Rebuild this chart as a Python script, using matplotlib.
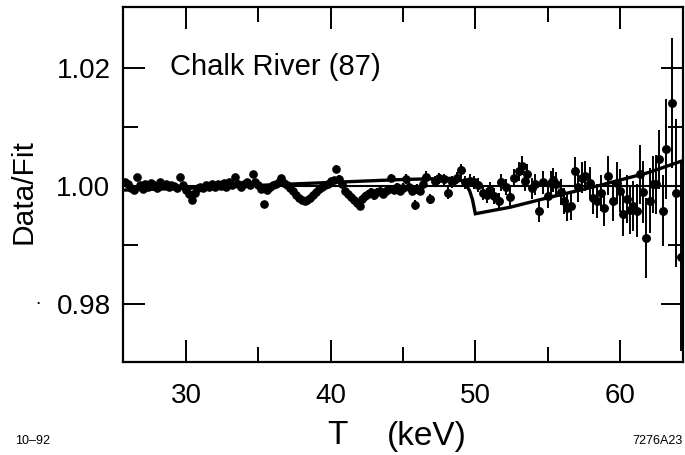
import matplotlib
matplotlib.use("Agg")
import matplotlib.pyplot as plt
from matplotlib.ticker import FixedLocator

plt.rcParams['font.family'] = ['Liberation Sans', 'DejaVu Sans']

# ---------------- data ----------------
T_dense = [25.8, 26.0, 26.2, 26.4, 26.6, 26.8, 27.0, 27.2, 27.4, 27.6, 27.8,
           28.0, 28.2, 28.4, 28.6, 28.8, 29.0, 29.2, 29.4, 29.6, 29.8,
           30.0, 30.2, 30.4, 30.6, 30.8, 31.0, 31.2, 31.4, 31.6, 31.8,
           32.0, 32.2, 32.4, 32.6, 32.8, 33.0, 33.2, 33.4, 33.6, 33.8,
           34.0, 34.2, 34.4, 34.6, 34.8, 35.0, 35.2, 35.4, 35.6, 35.8,
           36.0, 36.2, 36.4, 36.6, 36.8, 37.0, 37.2, 37.4, 37.6, 37.8,
           38.0, 38.2, 38.4, 38.6, 38.8, 39.0, 39.2, 39.4, 39.6, 39.8,
           40.0, 40.2, 40.4, 40.6, 40.8, 41.0, 41.2, 41.4, 41.6, 41.8,
           42.0, 42.2, 42.4, 42.6, 42.8, 43.0, 43.2, 43.4, 43.6, 43.8,
           44.0, 44.2, 44.4, 44.6, 44.8, 45.0, 45.2, 45.4, 45.6, 45.8,
           46.0, 46.2, 46.4]
R_dense = [1.0006, 1.0003, 0.9996, 0.9994, 1.0015, 1.0001, 0.9995, 1.0004, 0.9999, 1.0005, 1.0002,
           0.9996, 1.0006, 1.0001, 1.0004, 0.9998, 1.0002, 1.0000, 0.9996, 1.0015, 1.0001,
           0.9994, 0.9986, 0.9977, 0.9988, 0.9996, 0.9999, 0.9996, 1.0002, 0.9998, 1.0003,
           0.9999, 1.0004, 1.0000, 1.0005, 0.9999, 1.0006, 1.0002, 1.0016, 1.0003, 0.9999,
           1.0004, 1.0007, 1.0001, 1.0021, 1.0006, 1.0001, 0.9995, 0.9970, 0.9993, 0.9998,
           1.0002, 1.0004, 1.0007, 1.0013, 1.0005, 1.0001, 0.9997, 0.9991, 0.9985, 0.9980,
           0.9977, 0.9975, 0.9977, 0.9980, 0.9984, 0.9990, 0.9995, 0.9999, 1.0002, 1.0004,
           1.0008, 1.0010, 1.0029, 1.0012, 1.0003, 0.9992, 0.9986, 0.9981, 0.9976, 0.9971,
           0.9966, 0.9978, 0.9983, 0.9987, 0.9990, 0.9984, 0.9989, 0.9992, 0.9986, 0.9991,
           0.9995, 1.0014, 0.9993, 0.9998, 0.9991, 0.9997, 1.0012, 0.9999, 0.9992, 0.9968,
           0.9995, 0.9992, 1.0004]
E_dense = [0.0004, 0.0004, 0.0004, 0.0004, 0.0004, 0.0004, 0.0004, 0.0004, 0.0004, 0.0004, 0.0004,
           0.0004, 0.0004, 0.0004, 0.0004, 0.0004, 0.0004, 0.0004, 0.0004, 0.0004, 0.0004,
           0.0004, 0.0004, 0.0004, 0.0004, 0.0004, 0.0004, 0.0004, 0.0004, 0.0004, 0.0004,
           0.0004, 0.0004, 0.0004, 0.0004, 0.0004, 0.0004, 0.0004, 0.0004, 0.0004, 0.0004,
           0.0004, 0.0004, 0.0004, 0.0004, 0.0004, 0.0004, 0.0004, 0.0005, 0.0005, 0.0005,
           0.0005, 0.0005, 0.0005, 0.0005, 0.0005, 0.0005, 0.0005, 0.0005, 0.0005, 0.0005,
           0.0005, 0.0005, 0.0005, 0.0005, 0.0005, 0.0005, 0.0005, 0.0005, 0.0005, 0.0005,
           0.0006, 0.0006, 0.0006, 0.0006, 0.0006, 0.0006, 0.0006, 0.0006, 0.0006, 0.0006,
           0.0006, 0.0006, 0.0006, 0.0006, 0.0006, 0.0007, 0.0007, 0.0007, 0.0007, 0.0007,
           0.0007, 0.0007, 0.0007, 0.0007, 0.0007, 0.0008, 0.0008, 0.0008, 0.0008, 0.0008,
           0.0008, 0.0008, 0.0008]

T_sparse = [46.6, 46.9, 47.2, 47.5, 47.8, 48.1, 48.4, 48.7, 49.0, 49.3, 49.6, 49.9,
            50.2, 50.5, 50.8, 51.0, 51.3, 51.6, 51.8, 52.1, 52.4, 52.7, 53.0, 53.2,
            53.4, 53.6, 53.9, 54.1, 54.4, 54.7, 55.0, 55.2, 55.4, 55.6, 55.9, 56.1,
            56.3, 56.6, 56.9, 57.1, 57.4, 57.6, 57.9, 58.1, 58.4, 58.7, 58.9, 59.2,
            59.5, 59.8, 60.0, 60.2, 60.5, 60.7, 60.9, 61.2, 61.4, 61.6, 61.8, 62.1,
            62.3, 62.5, 62.7, 63.0, 63.2, 63.6, 63.9, 64.2]
R_sparse = [1.0016, 0.9978, 1.0008, 1.0013, 1.0011, 0.9988, 1.0007, 1.0014, 1.0027, 1.0006, 1.0009, 1.0006,
            1.0002, 0.9988, 0.9984, 0.9993, 0.9983, 0.9975, 1.0006, 0.9998, 0.9981, 1.0014, 1.0025, 1.0034,
            1.0009, 1.0020, 0.9996, 1.0003, 0.9958, 1.0006, 0.9983, 1.0005, 1.0010, 1.0003, 0.9990, 0.9975,
            0.9963, 0.9966, 1.0025, 0.9998, 1.0014, 1.0017, 1.0005, 0.9980, 0.9975, 0.9988, 0.9963, 1.0017,
            0.9975, 1.0005, 0.9992, 0.9953, 0.9978, 0.9960, 0.9966, 0.9958, 1.0020, 0.9990, 0.9912, 0.9975,
            1.0003, 1.0003, 1.0045, 0.9958, 1.0063, 1.0141, 0.9988, 0.9880]
E_sparse = [0.0009, 0.0009, 0.0009, 0.0009, 0.0010, 0.0010, 0.0010, 0.0010, 0.0011, 0.0011, 0.0011, 0.0011,
            0.0012, 0.0012, 0.0012, 0.0013, 0.0013, 0.0013, 0.0014, 0.0014, 0.0015, 0.0015, 0.0016, 0.0016,
            0.0017, 0.0017, 0.0018, 0.0018, 0.0019, 0.0019, 0.0020, 0.0020, 0.0021, 0.0021, 0.0022, 0.0022,
            0.0023, 0.0023, 0.0024, 0.0025, 0.0026, 0.0026, 0.0027, 0.0028, 0.0029, 0.0030, 0.0031, 0.0033,
            0.0034, 0.0035, 0.0036, 0.0038, 0.0040, 0.0041, 0.0043, 0.0045, 0.0050, 0.0052, 0.0068, 0.0055,
            0.0048, 0.0050, 0.0050, 0.0060, 0.0085, 0.0110, 0.0125, 0.0160]

fit_T = [25.65, 30.0, 35.0, 40.0, 45.0, 48.5, 49.0, 49.3, 49.6, 49.8, 50.0, 52.4, 55.0, 58.6, 62.0, 64.35]
fit_R = [0.9993, 0.9996, 1.0001, 1.0006, 1.0011, 1.0013, 1.0010, 1.0004, 0.9992, 0.9977, 0.9953,
         0.9964, 0.9980, 1.0001, 1.0023, 1.0043]

ref_level = 1.0

xmajor = [30, 40, 50, 60]
xminor = [35, 45, 55]
ymajor = [0.98, 1.00, 1.02]
yminor = [0.99, 1.01]
ylabels = ['0.98', '1.00', '1.02']

# ---------------- figure ----------------
W, H = 685, 455
fig = plt.figure(figsize=(W / 100, H / 100), dpi=100)
ax = fig.add_axes([123 / W, 1 - 362 / H, (683 - 123) / W, (362 - 7) / H])
ax.set_xlim(25.65, 64.35)
ax.set_ylim(0.9702, 1.0303)

ax.axhline(ref_level, color='black', lw=1.5, zorder=2)
ax.plot(fit_T, fit_R, color='black', lw=2.4, zorder=3, solid_joinstyle='miter')

ax.errorbar(T_dense, R_dense, yerr=E_dense, fmt='o', color='black', ms=5.2,
            elinewidth=1.6, capsize=0, zorder=4)
ax.errorbar(T_sparse, R_sparse, yerr=E_sparse, fmt='o', color='black', ms=5.4,
            elinewidth=1.4, capsize=0, zorder=4)

ax.xaxis.set_major_locator(FixedLocator(xmajor))
ax.xaxis.set_minor_locator(FixedLocator(xminor))
ax.yaxis.set_major_locator(FixedLocator(ymajor))
ax.yaxis.set_minor_locator(FixedLocator(yminor))
ax.set_yticklabels(ylabels)

ax.tick_params(which='major', direction='in', length=15.5, width=1.4,
               top=True, right=True, labelsize=20, color='black')
ax.tick_params(which='minor', direction='in', length=11, width=1.4,
               top=True, right=True)
ax.tick_params(axis='x', which='major', pad=15)
ax.tick_params(axis='y', which='major', pad=9)
for s in ax.spines.values():
    s.set_linewidth(1.6)

fig.text(24 / W, 1 - 192 / H, 'Data/Fit', rotation=90, ha='center', va='center', fontsize=21.5)
fig.text(337 / W, 1 - 436 / H, 'T', ha='center', va='center', fontsize=24)
fig.text(427 / W, 1 - 436 / H, '(keV)', ha='center', va='center', fontsize=24)
fig.text(170 / W, 1 - 67 / H, 'Chalk River (87)', ha='left', va='center', fontsize=21)
fig.text(38 / W, 1 - 300 / H, '.', ha='center', va='center', fontsize=14)
fig.text(15 / W, 1 - 441 / H, '10\u201392', ha='left', va='center', fontsize=9)
fig.text(683 / W, 1 - 441 / H, '7276A23', ha='right', va='center', fontsize=9)

fig.savefig('out.png', dpi=100)
